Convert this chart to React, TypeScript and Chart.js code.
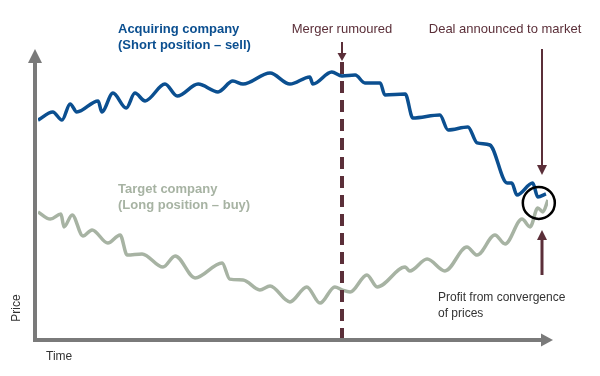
import React, { useEffect, useRef } from "react";
import { Chart, registerables } from "chart.js";

Chart.register(...registerables);

// Time (0..100) and price (0..100) readings
const acquirerTime = [0, 2.9, 4.7, 6.3, 7.6, 11.8, 12.5, 14.7, 17.3, 19, 21, 24.9, 27.3, 31.4, 35.3, 38.2, 40.2, 45.5, 49.4, 53.3, 53.9, 57.6, 59.6, 62.2, 64.1, 67.1, 68, 72, 73.5, 78.8, 80.4, 84.3, 86.1, 88.6, 92, 92.9, 93.9, 97, 98, 99.6];
const acquirerPrice = [73.3, 76, 73.3, 78.7, 76, 79.7, 76, 82.3, 77.3, 82.3, 79.7, 85.3, 81.3, 85.3, 82.7, 86.3, 85.3, 89, 85.3, 87.7, 85.3, 89.3, 88, 88.3, 85.7, 85.7, 81.7, 82, 74, 75, 70, 71, 65.7, 65, 52.3, 52.3, 48.3, 52.3, 47.7, 48.7];

const targetTime = [0, 2.4, 4.5, 5.1, 6.7, 8.8, 10.6, 13.7, 16.1, 17.5, 20.4, 24.5, 26.9, 30.8, 36.1, 37.6, 40.2, 43.5, 45.5, 49.4, 52.7, 55.3, 58.2, 59.6, 61.2, 64.5, 66.5, 72, 72.9, 76.3, 79.8, 84.1, 86.1, 89.6, 91.6, 94.9, 96.5, 98, 99, 100];
const targetPrice = [42.7, 40.3, 42, 37.7, 41.7, 34.7, 36.7, 32.3, 35, 28.3, 28.7, 24.3, 28, 20.7, 25.7, 20.3, 20, 16.7, 18, 12.7, 17.7, 12.3, 17.7, 16.7, 16, 21.7, 17.7, 24.3, 23, 27, 23, 31, 28.3, 35, 32, 40.3, 37.7, 44, 42.7, 46.7];

const mergerTime = 59.6;
const dealTime = 98.9;
const convergenceTime = 98.2;
const convergencePrice = 45.7;

const labelAcquirer = ["Acquiring company", "(Short position \u2013 sell)"];
const labelTarget = ["Target company", "(Long position \u2013 buy)"];
const labelMerger = "Merger rumoured";
const labelDeal = "Deal announced to market";
const labelProfit = ["Profit from convergence", "of prices"];
const labelX = "Time";
const labelY = "Price";

const BLUE = "#0b4f90";
const GREEN = "#a7b3a3";
const MAROON = "#5b2f39";
const AXIS = "#7a7a7a";
const FONT = "Arial, 'Liberation Sans', sans-serif";

function toPoints(xs: number[], ys: number[]) {
  return xs.map((x, i) => ({ x, y: ys[i] }));
}

function arrowHead(ctx: CanvasRenderingContext2D, x: number, y: number, dir: number, half: number, len: number, color: string) {
  ctx.fillStyle = color;
  ctx.beginPath();
  ctx.moveTo(x, y);
  ctx.lineTo(x - half, y - dir * len);
  ctx.lineTo(x + half, y - dir * len);
  ctx.closePath();
  ctx.fill();
}

const decorPlugin = {
  id: "decor",
  beforeDatasetsDraw(chart: any) {
    const ctx = chart.ctx as CanvasRenderingContext2D;
    const xs = chart.scales.x;
    const ys = chart.scales.y;
    const x0 = xs.getPixelForValue(0) - 3;
    const y0 = ys.getPixelForValue(0);
    ctx.save();
    ctx.strokeStyle = AXIS;
    ctx.lineWidth = 4;
    ctx.beginPath();
    ctx.moveTo(x0, y0 + 2);
    ctx.lineTo(x0, 60);
    ctx.stroke();
    ctx.beginPath();
    ctx.moveTo(x0 - 2, y0);
    ctx.lineTo(543, y0);
    ctx.stroke();
    ctx.fillStyle = AXIS;
    ctx.beginPath();
    ctx.moveTo(x0, 49);
    ctx.lineTo(x0 - 7, 63);
    ctx.lineTo(x0 + 7, 63);
    ctx.closePath();
    ctx.fill();
    ctx.beginPath();
    ctx.moveTo(553, y0);
    ctx.lineTo(541, y0 - 6.5);
    ctx.lineTo(541, y0 + 6.5);
    ctx.closePath();
    ctx.fill();
    ctx.restore();
  },
  afterDatasetsDraw(chart: any) {
    const ctx = chart.ctx as CanvasRenderingContext2D;
    const xs = chart.scales.x;
    const ys = chart.scales.y;
    const y0 = ys.getPixelForValue(0);
    ctx.save();
    const mx = Math.round(xs.getPixelForValue(mergerTime));
    ctx.strokeStyle = MAROON;
    ctx.lineWidth = 4;
    ctx.setLineDash([12, 7]);
    ctx.beginPath();
    ctx.moveTo(mx, 62);
    ctx.lineTo(mx, y0 - 2);
    ctx.stroke();
    ctx.setLineDash([]);
    ctx.lineWidth = 2;
    ctx.beginPath();
    ctx.moveTo(mx, 42);
    ctx.lineTo(mx, 54);
    ctx.stroke();
    arrowHead(ctx, mx, 61, 1, 4.5, 8, MAROON);

    const dx = Math.round(xs.getPixelForValue(dealTime));
    ctx.lineWidth = 2;
    ctx.beginPath();
    ctx.moveTo(dx, 49);
    ctx.lineTo(dx, 166);
    ctx.stroke();
    arrowHead(ctx, dx, 175, 1, 5, 10, MAROON);

    ctx.lineWidth = 3;
    ctx.beginPath();
    ctx.moveTo(dx, 275);
    ctx.lineTo(dx, 238);
    ctx.stroke();
    arrowHead(ctx, dx, 230, -1, 5, 10, MAROON);

    const cx = xs.getPixelForValue(convergenceTime);
    const cy = ys.getPixelForValue(convergencePrice);
    ctx.strokeStyle = "#000";
    ctx.lineWidth = 2.5;
    ctx.beginPath();
    ctx.arc(cx, cy, 16, 0, Math.PI * 2);
    ctx.stroke();

    ctx.textBaseline = "middle";
    ctx.font = `bold 13px ${FONT}`;
    ctx.fillStyle = BLUE;
    ctx.textAlign = "left";
    ctx.fillText(labelAcquirer[0], 118, 29);
    ctx.fillText(labelAcquirer[1], 118, 45);
    ctx.fillStyle = GREEN;
    ctx.fillText(labelTarget[0], 118, 189);
    ctx.fillText(labelTarget[1], 118, 205);

    ctx.font = `13px ${FONT}`;
    ctx.fillStyle = MAROON;
    ctx.textAlign = "center";
    ctx.fillText(labelMerger, mx, 29);
    ctx.fillText(labelDeal, 505, 29);

    ctx.font = `12px ${FONT}`;
    ctx.fillStyle = "#333";
    ctx.textAlign = "left";
    ctx.fillText(labelProfit[0], 438, 298);
    ctx.fillText(labelProfit[1], 438, 314);

    ctx.fillText(labelX, 46, 357);
    ctx.save();
    ctx.translate(17, 308);
    ctx.rotate(-Math.PI / 2);
    ctx.textAlign = "center";
    ctx.fillText(labelY, 0, 0);
    ctx.restore();
    ctx.restore();
  },
};

export default function App() {
  const ref = useRef<HTMLCanvasElement>(null);
  useEffect(() => {
    if (!ref.current) return;
    const chart = new Chart(ref.current, {
      type: "line",
      data: {
        datasets: [
          {
            label: labelAcquirer[0],
            data: toPoints(acquirerTime, acquirerPrice),
            borderColor: BLUE,
            borderWidth: 3.5,
            pointRadius: 0,
            cubicInterpolationMode: "monotone",
            fill: false,
          },
          {
            label: labelTarget[0],
            data: toPoints(targetTime, targetPrice),
            borderColor: GREEN,
            borderWidth: 3.5,
            pointRadius: 0,
            cubicInterpolationMode: "monotone",
            fill: false,
          },
        ],
      },
      options: {
        responsive: false,
        animation: false,
        layout: { padding: { left: 38, right: 52, top: 40, bottom: 36 } },
        plugins: { legend: { display: false }, tooltip: { enabled: false } },
        scales: {
          x: { type: "linear", min: 0, max: 100, display: false },
          y: { type: "linear", min: 0, max: 100, display: false },
        },
      },
      plugins: [decorPlugin],
    });
    return () => chart.destroy();
  }, []);
  return (
    <div style={{ position: "fixed", left: 0, top: 0, width: 600, height: 376, background: "#fff" }}>
      <canvas ref={ref} width={600} height={376} />
    </div>
  );
}
